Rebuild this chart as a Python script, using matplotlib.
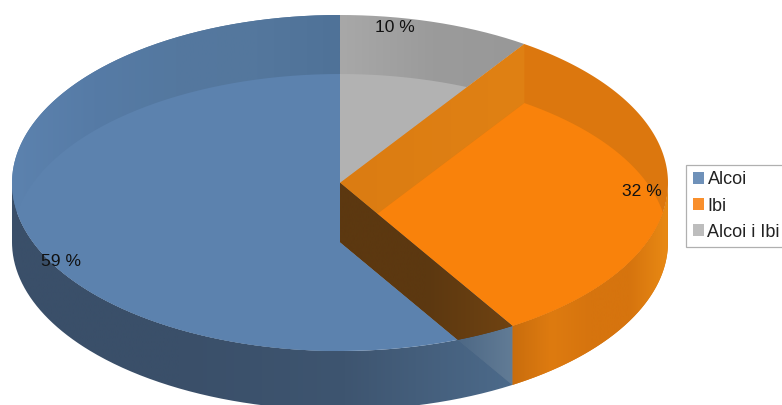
import numpy as np
import matplotlib
matplotlib.use("Agg")
import matplotlib.pyplot as plt
from matplotlib.colors import LinearSegmentedColormap
from matplotlib.patches import Patch, Polygon
from matplotlib.path import Path

plt.rcParams['font.family'] = ['Liberation Sans', 'DejaVu Sans']

categories = ['Alcoi', 'Ibi', 'Alcoi i Ibi']
shares = [58.8, 31.7, 9.5]
pct_labels = ['59 %', '32 %', '10 %']
legend_colors = ['#6f91b9', '#f98f2c', '#bdbdbd']

# pie drawn in pixel coords, y going down
cx, cy, rx, ry = 340, 183, 328, 168
depth = 59

angles = 90 + np.cumsum([0] + shares) * 3.6
a_blue0, a_blue1, a_orange1, a_gray1 = angles


def arc(y0, a0, a1):
    t = np.radians(np.linspace(a0, a1, 300))
    return np.column_stack([cx + rx*np.cos(t), y0 - ry*np.sin(t)])


def sector(y0, a0, a1):
    return np.vstack([[cx, y0], arc(y0, a0, a1)])


def swept(a0, a1):
    return np.vstack([arc(cy, a0, a1), arc(cy + depth, a1, a0)])


def edge_wall(a):
    p = arc(cy, a, a)[0]
    return np.array([[cx, cy], p, p + [0, depth], [cx, cy + depth]])


def wall_inside_top(a):
    # part of the cut face that is still inside the top ellipse
    w = edge_wall(a)
    s = np.linspace(0, 1, 800)[:, None]
    q = w[3] + s*(w[2] - w[3])
    inside = ((q[:, 0] - cx)/rx)**2 + ((q[:, 1] - cy)/ry)**2 <= 1
    hit = q[inside][-1]
    a_hit = np.degrees(np.arctan2(-(hit[1] - cy)/ry, (hit[0] - cx)/rx)) % 360
    return np.vstack([w[0], w[3], arc(cy, a_hit, a)]), hit


fig = plt.figure(figsize=(7.82, 4.05), dpi=100)
ax = fig.add_axes([0, 0, 1, 1])


def fill(pts, color, clip=None, z=1):
    p = Polygon(pts, closed=True, fc=color, ec='none', zorder=z)
    ax.add_patch(p)
    if clip is not None:
        p.set_clip_path(Path(clip), ax.transData)


def shade(pts, colors, x0, x1, z=1):
    cmap = LinearSegmentedColormap.from_list('s', colors)
    g = np.linspace(0, 1, 256).reshape(1, -1)
    im = ax.imshow(g, cmap=cmap, extent=[x0, x1, 405, 0], aspect='auto', zorder=z,
                   interpolation='bilinear')
    im.set_clip_path(Path(np.vstack([pts, pts[0]])), ax.transData)


# Alcoi
band_blue = ['#5c82ae', '#567ba6', '#54789f', '#54779d', '#4f7298']
shade(swept(a_blue0, 180), band_blue, 12, 340, 1)
shade(swept(180, a_blue1), ['#3a4f69', '#3a4f69', '#3e5570', '#4c6a8a'], 12, 512, 1)
shade(sector(cy, a_blue0, a_blue1), band_blue, 12, 340, 2)
fill(sector(cy, a_blue0, a_blue1), '#5c82ae', clip=sector(cy + depth, a_blue0, a_blue1), z=3)

# Alcoi i Ibi
shade(sector(cy, a_orange1 - 360, a_gray1 - 360), ['#a8a8a8', '#9b9b9b', '#989898'], 340, 525, 6)
fill(sector(cy, a_orange1, a_gray1), '#b2b2b2', clip=sector(cy + depth, a_orange1, a_gray1), z=7)

# Ibi
a0, a1 = a_blue1 - 360, a_orange1 - 360
fill(swept(a0, 0), '#d6740e', z=8)
shade(swept(a0, 0), ['#c96d0d', '#de7b10', '#d6740e', '#d6740e', '#e98a14'], 512, 669, 8)
fill(sector(cy, a0, a1), '#dc770e', z=9)
shade(edge_wall(a1), ['#db7c12', '#e08114'], 340, 525, 10)
fill(sector(cy, a0, a1), '#f9820b', clip=sector(cy + depth, a0, a1), z=11)

# cut face between Alcoi and Ibi, sits over the orange band
wall = edge_wall(a_blue1)
front, hit = wall_inside_top(a_blue1)
fill(wall, '#566f8b', z=12)
shade(wall, ['#4d6885', '#627c96'], hit[0], wall[1][0], 12)
fill(front, '#5c3810', z=13)
shade(front, ['#5c3810', '#5c3810', '#704312'], cx, wall[1][0], 13)

ax.set_xlim(0, 782)
ax.set_ylim(405, 0)
ax.axis('off')

label_x = [61, 642, 395]
label_y = [261, 191, 27]
for x, y, s in zip(label_x, label_y, pct_labels):
    ax.text(x, y, s, fontsize=12.6, color='#111111', ha='center', va='center', zorder=20)

handles = [Patch(fc=c, ec='none') for c in legend_colors]
leg = ax.legend(handles, categories, loc='upper left', bbox_to_anchor=(686/782, 1 - 165/405),
                bbox_transform=ax.transAxes, fontsize=13, frameon=True, fancybox=False,
                framealpha=1, edgecolor='#b0b0b0', handlelength=0.66, handleheight=0.66,
                handletextpad=0.17, labelspacing=0.5, borderpad=0.36, borderaxespad=0,
                labelcolor='#222222')
leg.get_frame().set_linewidth(0.9)
leg.set_zorder(30)

fig.savefig('out.png', dpi=100)
